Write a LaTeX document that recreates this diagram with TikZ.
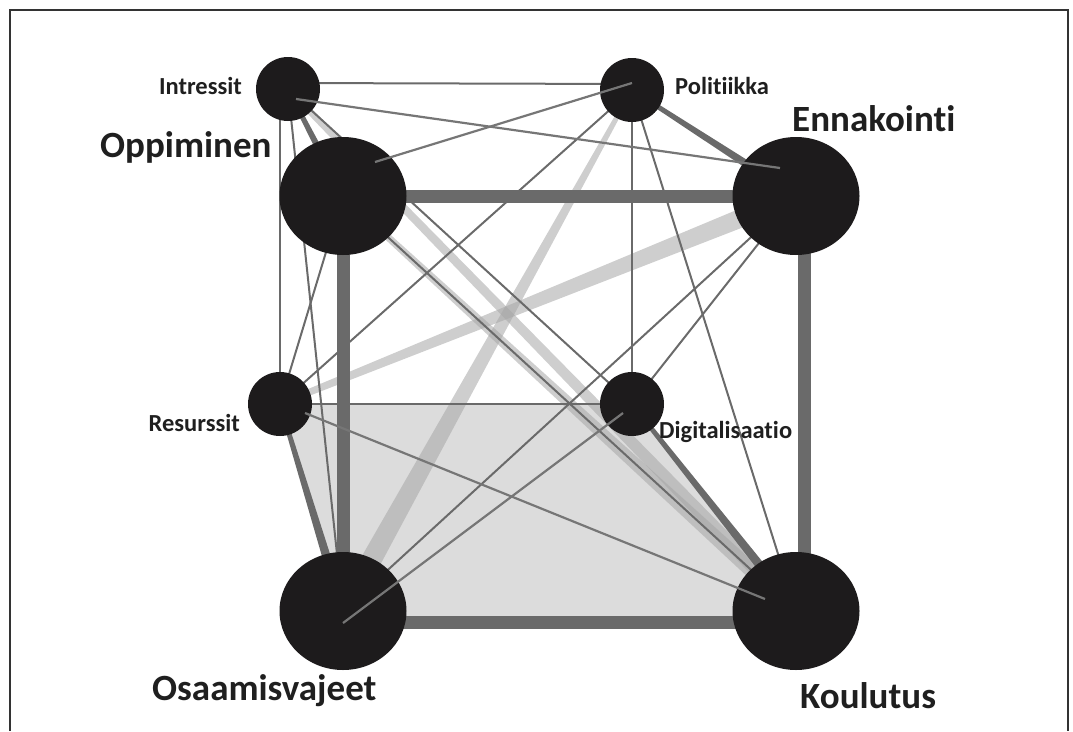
\documentclass[tikz,border=0pt]{standalone}
\usepackage{fontspec}
\setmainfont{Carlito}[Ligatures={NoCommon,NoRare}]
\usetikzlibrary{calc,shapes.geometric,backgrounds}

\definecolor{edgegray}{HTML}{6A6A6A}
\definecolor{topgray}{HTML}{767676}
\definecolor{nodeblack}{HTML}{1D1B1C}
\definecolor{fillgray}{HTML}{DCDCDC}

% tapered band from #1 to #2, half widths #3 and #4
\newcommand\band[5]{%
	\fill[#5] ($(#1)!#3!90:(#2)$) -- ($(#1)!#3!-90:(#2)$) -- ($(#2)!#4!90:(#1)$) -- ($(#2)!#4!-90:(#1)$) -- cycle;}

\begin{document}
\begin{tikzpicture}[x=1pt,y=-1pt,
	bignode/.style={ellipse,fill=nodeblack,minimum width=127pt,minimum height=118pt,inner sep=0pt},
	smallnode/.style={circle,fill=nodeblack,minimum size=64pt,inner sep=0pt},
	weakline/.style={draw=edgegray,line width=2pt},
	strongline/.style={draw=edgegray,line width=13pt},
	topline/.style={draw=topgray,line width=2.2pt},
	darkband/.style={fill=edgegray},
	lightband/.style={fill=black!35,opacity=0.55},
	biglabel/.style={inner sep=0pt,font=\bfseries\fontsize{37}{40}\selectfont,text=black!88},
	smalllabel/.style={inner sep=0pt,font=\bfseries\fontsize{24.5}{26}\selectfont,text=black!88}]
	\useasboundingbox (0,0) rectangle (1073,731);
	\draw[line width=1.5pt,black!80] (10,731) -- (10,10) -- (1068,10) -- (1068,731);

	\node[smallnode] (int) at (288,89) {};
	\node[smallnode] (pol) at (632,90) {};
	\node[bignode] (opp) at (343,196) {};
	\node[bignode] (enn) at (796,196) {};
	\node[smallnode] (res) at (280,404) {};
	\node[smallnode] (dig) at (632,404) {};
	\node[bignode] (osa) at (343,611) {};
	\node[bignode] (kou) at (796,611) {};

	\begin{scope}[on background layer]
		\fill[fillgray] (res.center) -- (dig.center) -- ([yshift=-11pt]kou.center) -- ([yshift=-11pt]osa.center) -- cycle;

		\band{res}{enn}{3pt}{10pt}{lightband}
		\band{osa}{pol}{11pt}{2pt}{lightband}
		\band{int}{kou}{3pt}{7pt}{lightband}
		\band{opp}{kou}{3pt}{8pt}{lightband}

		\draw[weakline] ([yshift=6pt]int.center) -- ([yshift=6pt]pol.center);
		\draw[weakline] ([xshift=-8pt]int.center) -- (res.center);
		\foreach \a/\b in {int/osa, int/dig, opp/res, opp/kou, pol/res, pol/dig, pol/kou, enn/osa, enn/dig, res/dig}
			\draw[weakline] (\a.center) -- (\b.center);

		\draw[strongline] (opp.center) -- (enn.center);
		\draw[strongline] (opp.center) -- (osa.center);
		\draw[strongline] ([xshift=8pt]enn.center) -- ([xshift=8pt]kou.center);
		\draw[strongline] ([yshift=-11pt]osa.center) -- ([yshift=-11pt]kou.center);

		\band{int}{opp}{2pt}{4pt}{darkband}
		\band{pol}{enn}{2pt}{4.5pt}{darkband}
		\band{res}{osa}{2pt}{5pt}{darkband}
		\band{dig}{kou}{2pt}{5pt}{darkband}
	\end{scope}

	% lines over the circles
	\draw[topline] ([shift={(8,10)}]int.center) -- ([shift={(-16,-28)}]enn.center);
	\draw[topline] ([shift={(0,-7)}]pol.center) -- ([shift={(32,-34)}]opp.center);
	\draw[topline] ([shift={(25,9)}]res.center) -- ([shift={(-31,-12)}]kou.center);
	\draw[topline] ([shift={(-9,9)}]dig.center) -- ([shift={(0,12)}]osa.center);

	\node[smalllabel,anchor=base east] (intlab) at (242,94) {Intressit};
	\node[biglabel,anchor=base west] (opplab) at (100,157) {Oppiminen};
	\node[smalllabel,anchor=base west] (pollab) at (675,94) {Politiikka};
	\node[biglabel,anchor=base west] (ennlab) at (792,131) {Ennakointi};
	\node[smalllabel,anchor=base east] (reslab) at (240,431) {Resurssit};
	\node[smalllabel,anchor=base west] (diglab) at (659,438) {Digitalisaatio};
	\node[biglabel,anchor=base west] (osalab) at (152,700) {Osaamisvajeet};
	\node[biglabel,anchor=base west] (koulab) at (800,708) {Koulutus};
\end{tikzpicture}
\end{document}
